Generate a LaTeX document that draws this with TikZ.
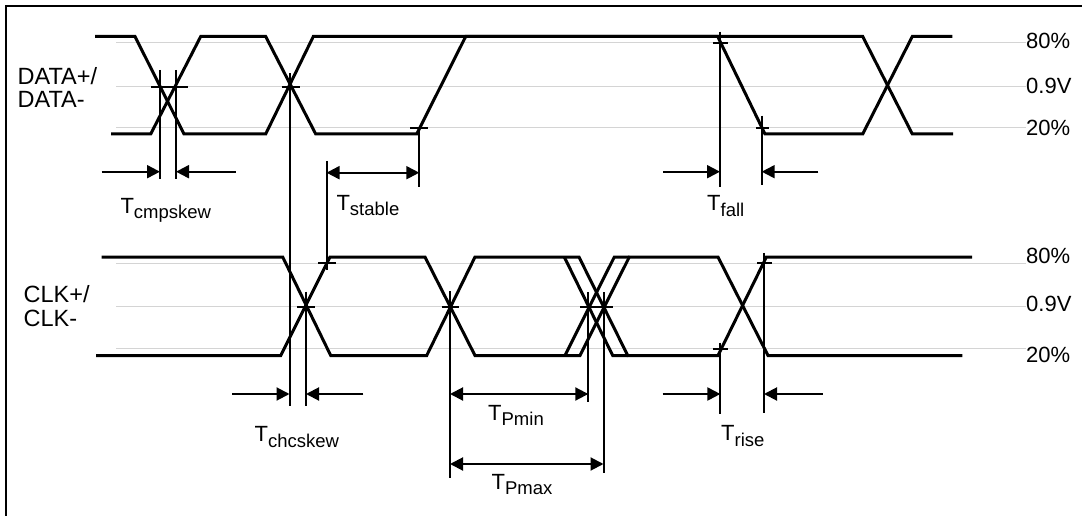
\documentclass[tikz,border=0pt]{standalone}
\usepackage{fontspec}
\setmainfont{Liberation Sans}
\usetikzlibrary{arrows.meta}
\newcommand\mysubtxt[1]{\raisebox{-5.5pt}{\fontsize{18.5}{20}\selectfont #1}}
\begin{document}
\begin{tikzpicture}[x=1pt,y=-1pt,
  sig/.style={line width=3pt},
  gridline/.style={line width=1pt, black!17},
  tick/.style={line width=2pt},
  thintick/.style={line width=1.2pt},
  dimone/.style={line width=2pt, -{Triangle[length=13pt,width=13pt]}},
  dimtwo/.style={line width=2pt, {Triangle[length=13pt,width=13pt]}-{Triangle[length=13pt,width=13pt]}},
  lbl/.style={inner sep=0pt, anchor=base west, font=\fontsize{22}{25}\selectfont},
  siglbl/.style={inner sep=0pt, anchor=base west, font=\fontsize{23.5}{26}\selectfont},
  framestyle/.style={line width=2pt}]
\useasboundingbox (0,0) rectangle (1082,516);
% frame
\draw[framestyle] (6.3,516) -- (6.3,5.7) -- (1082,5.7);
% grid lines
\foreach \yy in {43,86.7,127.7,263.3,306.7,348.7}
  \draw[gridline] (116,\yy) -- (1026,\yy);
% DATA signals
\def\dHi{36.5}\def\dLo{134}
\draw[sig] (95,\dHi) -- (135,\dHi) -- (184,\dLo) -- (265.7,\dLo) -- (313.3,\dHi) -- (862.7,\dHi) -- (912.3,\dLo) -- (953,\dLo);
\draw[sig] (111,\dLo) -- (150.7,\dLo) -- (200.7,\dHi) -- (265.7,\dHi) -- (315.7,\dLo) -- (416.7,\dLo) -- (465.7,\dHi) -- (717.7,\dHi) -- (765,\dLo) -- (862.7,\dLo) -- (912.3,\dHi) -- (952.3,\dHi);
% CLK signals
\def\cHi{257}\def\cLo{355.5}
\draw[sig] (101.7,\cHi) -- (282.7,\cHi) -- (330.7,\cLo) -- (426.7,\cLo) -- (475,\cHi) -- (579,\cHi) -- (627.7,\cLo) -- (718,\cLo) -- (766.4,\cHi) -- (972,\cHi);
\draw[sig] (564.3,\cHi) -- (612.7,\cLo) -- (627.7,\cLo);
\draw[sig] (96,\cLo) -- (280.7,\cLo) -- (330,\cHi) -- (425,\cHi) -- (475,\cLo) -- (580,\cLo) -- (629.3,\cHi) -- (718,\cHi) -- (768,\cLo) -- (962.4,\cLo);
\draw[sig] (565,\cLo) -- (614.3,\cHi) -- (629.3,\cHi);
% DATA ticks and extension lines
\draw[tick] (160,70) -- (160,179.3);
\draw[tick] (176,70) -- (176,179.3);
\draw[tick] (151,86.7) -- (188.3,86.7);
\draw[tick] (289.5,73.3) -- (289.5,406);
\draw[tick] (281.7,86.7) -- (300,86.7);
\draw[tick] (410,127.7) -- (428.3,127.7);
\draw[tick] (419.3,127.7) -- (419.3,186.7);
\draw[tick] (326.5,161) -- (326.5,270);
\draw[tick] (318.3,262.7) -- (336,262.7);
\draw[thintick] (720,31.7) -- (720,186.7);
\draw[tick] (713.3,43.3) -- (728.3,43.3);
\draw[tick] (761.7,115.7) -- (761.7,185);
\draw[tick] (756,127.7) -- (769.3,127.7);
% CLK ticks and extension lines
\draw[tick] (306,291.7) -- (306,406);
\draw[tick] (297.3,306.7) -- (315,306.7);
\draw[tick] (450,291) -- (450,478.3);
\draw[tick] (441.7,306.7) -- (459,306.7);
\draw[tick] (588.3,292) -- (588.3,401.7);
\draw[tick] (603.5,292) -- (603.5,473.3);
\draw[tick] (580,306.7) -- (613,306.7);
\draw[tick] (720.4,342.7) -- (720.4,414.3);
\draw[tick] (712.8,348.7) -- (728.4,348.7);
\draw[thintick] (764,252.8) -- (764,412.9);
\draw[tick] (757,263.3) -- (771.6,263.3);
% dimension coordinates
\coordinate (cmpA) at (101.7,171.7); \coordinate (cmpB) at (160,171.7);
\coordinate (cmpC) at (235.7,171.7); \coordinate (cmpD) at (176,171.7);
\coordinate (stA) at (326.5,172.7);  \coordinate (stB) at (419.3,172.7);
\coordinate (faA) at (663.3,171.7);  \coordinate (faB) at (720,171.7);
\coordinate (faC) at (818.3,171.7);  \coordinate (faD) at (761.7,171.7);
\coordinate (chA) at (232.4,394);    \coordinate (chB) at (289.5,394);
\coordinate (chC) at (363.3,394);    \coordinate (chD) at (306,394);
\coordinate (pmA) at (450,394);      \coordinate (pmB) at (588.3,394);
\coordinate (pxA) at (450,464);      \coordinate (pxB) at (603.5,464);
\coordinate (riA) at (662.7,394);    \coordinate (riB) at (720.4,394);
\coordinate (riC) at (822.7,394);    \coordinate (riD) at (764,394);
\draw[dimone] (cmpA) -- (cmpB);
\draw[dimone] (cmpC) -- (cmpD);
\draw[dimtwo] (stA) -- (stB);
\draw[dimone] (faA) -- (faB);
\draw[dimone] (faC) -- (faD);
\draw[dimone] (chA) -- (chB);
\draw[dimone] (chC) -- (chD);
\draw[dimtwo] (pmA) -- (pmB);
\draw[dimtwo] (pxA) -- (pxB);
\draw[dimone] (riA) -- (riB);
\draw[dimone] (riC) -- (riD);
% signal names
\node[siglbl] (dname1) at (17.5,84.4) {DATA+/};
\node[siglbl] (dname2) at (17.5,107.6) {DATA-};
\node[siglbl] (cname1) at (23.5,302.5) {CLK+/};
\node[siglbl] (cname2) at (23.5,326.5) {CLK-};
% level labels
\node[lbl] (d80) at (1026,49) {80\%};
\node[lbl] (d09) at (1026,93.5) {0.9V};
\node[lbl] (d20) at (1026,135.5) {20\%};
\node[lbl] (c80) at (1026,263) {80\%};
\node[lbl] (c09) at (1026,311) {0.9V};
\node[lbl] (c20) at (1026,362) {20\%};
% timing labels
\node[lbl] (tcmp) at (120.3,213.5) {T\mysubtxt{cmpskew}};
\node[lbl] (tstab) at (336.3,210) {T\mysubtxt{stable}};
\node[lbl] (tfall) at (707,211) {T\mysubtxt{fall}};
\node[lbl] (tchc) at (254.5,441.5) {T\mysubtxt{chcskew}};
\node[lbl] (tpmin) at (488,420) {T\mysubtxt{Pmin}};
\node[lbl] (tpmax) at (491.5,489.3) {T\mysubtxt{Pmax}};
\node[lbl] (trise) at (721,440.5) {T\mysubtxt{rise}};
\end{tikzpicture}
\end{document}
